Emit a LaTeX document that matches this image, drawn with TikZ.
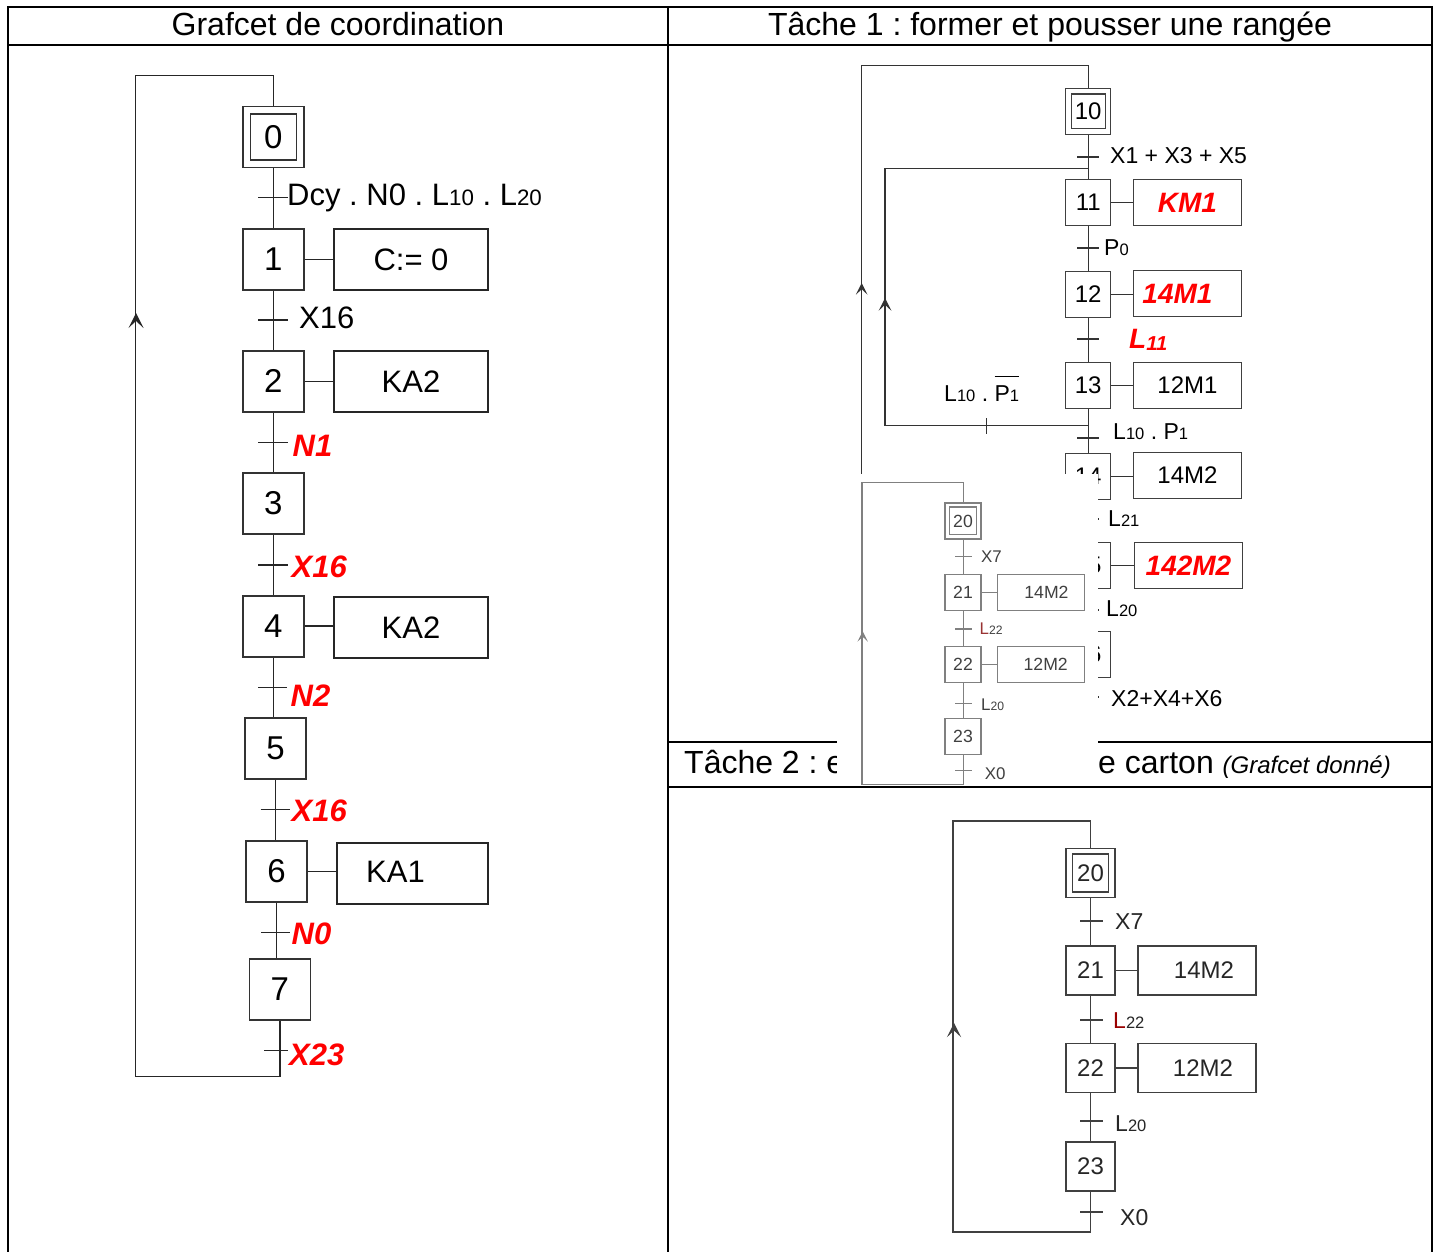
\documentclass[tikz,border=0pt]{standalone}
\usepackage{fontspec}
\setmainfont{Liberation Sans}
\frenchspacing
\newcommand\fs[1]{\fontsize{#1}{#1}\selectfont}
\newcommand\sbs[1]{\scalebox{0.72}{#1}}
\newcommand\obar[1]{\leavevmode\vbox{\hrule height 1.1pt \kern 9pt \hbox{#1}}}
\colorlet{tdl}{black!75}
\colorlet{tdt}{black!85}
\colorlet{tdr}{red!60!black}
\tikzset{
  frame/.style={line width=2.4pt,black},
  ln/.style={line width=1.5pt,black!85},
  ln1/.style={line width=1.3pt,black!80},
  chevron/.pic={\fill (0,0) -- (7.5,15) -- (0,8) -- (-7.5,15) -- cycle;},
  sbox/.style={draw=black!80,line width=1.6pt,inner sep=0pt,minimum width=61,minimum height=61,font=\fs{33}},
  sabox/.style={draw=black!85,line width=1.6pt,inner sep=0pt,minimum width=154,minimum height=61,font=\fs{31}},
  llab/.style={anchor=base west,inner sep=0pt,font=\fs{31}},
  rlab/.style={anchor=base west,inner sep=0pt,font=\fs{31}\bfseries\itshape,text=red},
  tbox/.style={draw=black!75,line width=1.3pt,inner sep=0pt,minimum width=45,minimum height=46,font=\fs{24}},
  tabox/.style={draw=black!75,line width=1.3pt,inner sep=0pt,minimum width=108.5,minimum height=46,font=\fs{24}},
  tlab/.style={anchor=base west,inner sep=0pt,font=\fs{23}},
  tred/.style={font=\fs{28}\bfseries\itshape,text=red},
  tdw/.style={line width=1.4pt},
  ubox/.style={draw=tdl,tdw,inner sep=0pt,minimum width=49,minimum height=49,font=\fs{24},text=tdt},
  uabox/.style={draw=tdl,tdw,inner sep=0pt,minimum width=118,minimum height=49,font=\fs{24},text=tdt},
  ulab/.style={anchor=base west,inner sep=0pt,font=\fs{23},text=tdt},
  uln/.style={draw=tdl,tdw},
  hdr/.style={anchor=base,inner sep=0pt,font=\fs{32}},
}
\newcommand\TacheDeux{%
  \node[ubox] (u20) at (1090.5,873) {20};
  \node[draw=tdl,tdw,inner sep=0pt,minimum width=36,minimum height=38] (u20i) at (u20.center) {};
  \node[ubox] (u21) at (1090.5,970.5) {21};
  \node[uabox] (c21) at (1197,970.5) {\hspace*{14pt}14M2};
  \node[ubox] (u22) at (1090.5,1068) {22};
  \node[uabox] (c22) at (1197,1068) {\hspace*{12pt}12M2};
  \node[ubox] (u23) at (1090.5,1166.5) {23};
  \coordinate (ut) at (1090.5,821);
  \coordinate (utl) at (953,821);
  \coordinate (ubl) at (953,1232);
  \coordinate (ub) at (1090.5,1232);
  \draw[uln] (u23.south) -- (ub) -- (ubl) -- (utl) -- (ut) -- (u20.north);
  \draw[uln] (u20.south) -- (u21.north);
  \draw[uln] (u21.south) -- (u22.north);
  \draw[uln] (u22.south) -- (u23.north);
  \draw[uln] (u21.east) -- (c21.west);
  \draw[uln] (u22.east) -- (c22.west);
  \draw[uln] (1080,921) -- (1103,921);
  \draw[uln] (1080,1020) -- (1103,1020);
  \draw[uln] (1080,1121) -- (1103,1121);
  \draw[uln] (1080,1212) -- (1103,1212);
  \node[ulab] (ux7) at (1115,929) {X7};
  \node[ulab] (ul22) at (1113,1028) {\textcolor{tdr}{L}\sbs{22}};
  \node[ulab] (ul20) at (1115,1131) {L\sbs{20}};
  \node[ulab] (ux0) at (1120,1225) {X0};
  \pic[color=tdl,scale=0.95] at (954,1023) {chevron};
}
\begin{document}
\begin{tikzpicture}[x=1pt,y=-1pt]
\useasboundingbox (0,0) rectangle (1438,1252);
\fill[white] (0,0) rectangle (1438,1252);
% ---------- table frame ----------
\draw[frame] (8,1252) -- (8,7) -- (1432,7) -- (1432,1252);
\draw[frame] (668,7) -- (668,1252);
\draw[frame] (8,45) -- (1432,45);
\draw[frame] (668,742) -- (1432,742);
\node[hdr] (h1) at (338,36) {Grafcet de coordination};
\node[hdr] (h2) at (1050,36) {Tâche 1 : former et pousser une rangée};
\node[anchor=base west,inner sep=0pt,font=\fs{32}] (h3) at (684,773) {Tâche 2 : e};
\node[anchor=base west,inner sep=0pt,font=\fs{32}] (h4) at (1098,773) {e carton {\fs{24}\itshape(Grafcet donné)}};
% ---------- Grafcet de coordination ----------
\node[sbox] (s0) at (273.3,137.2) {0};
\node[draw=black!80,line width=1.6pt,inner sep=0pt,minimum size=46] (s0i) at (s0.center) {};
\node[sbox] (s1) at (273.3,259.5) {1};
\node[sabox] (a1) at (411,259.5) {C:= 0};
\node[sbox] (s2) at (273.3,381.3) {2};
\node[sabox] (a2) at (411,381.3) {KA2};
\node[sbox] (s3) at (273.3,503.5) {3};
\node[sbox] (s4) at (273.3,626.2) {4};
\node[sabox] (a4) at (411,627.5) {KA2};
\node[sbox] (s5) at (275.5,748.5) {5};
\node[sbox] (s6) at (276.5,871.5) {6};
\node[sabox,minimum width=151] (a6) at (412.5,873.3) {};
\node[llab] (ka1) at (366,882) {KA1};
\node[sbox] (s7) at (279.8,989.5) {7};
\coordinate (lt) at (273.3,75.7);
\coordinate (ltl) at (135.7,75.7);
\coordinate (lbl) at (135.7,1076.7);
\coordinate (lb) at (279.8,1076.7);
\draw[ln] (s7.south) -- (lb) -- (lbl) -- (ltl) -- (lt) -- (s0.north);
\foreach \a/\b in {s0/s1,s1/s2,s2/s3,s3/s4,s4/s5,s5/s6,s6/s7}
  \draw[ln] (\a.south) -- (\a.south |- \b.north);
\foreach \s/\a in {s1/a1,s2/a2,s4/a4,s6/a6}
  \draw[ln] (\s.east) -- (\s.east -| \a.west);
\draw[ln] (258,197.5) -- (288,197.5);
\draw[ln] (258,320) -- (288,320);
\draw[ln] (258,442.7) -- (288,442.7);
\draw[ln] (258,565) -- (288,565);
\draw[ln] (258,687.5) -- (287,687.5);
\draw[ln] (260.7,809.7) -- (290,809.7);
\draw[ln] (261,932.7) -- (290,932.7);
\draw[ln] (264,1050.3) -- (288,1050.3);
\node[llab] (c0) at (287,206) {Dcy . N0 . L\sbs{10} . L\sbs{20}};
\node[llab] (c1) at (299,328) {X16};
\node[rlab] (c2) at (292.5,456) {N1};
\node[rlab] (c3) at (291.5,577) {X16};
\node[rlab] (c4) at (290.5,706) {N2};
\node[rlab] (c5) at (291.5,821) {X16};
\node[rlab] (c6) at (291.5,944) {N0};
\node[rlab] (c7) at (289,1065) {X23};
\pic[color=black!85] at (136,313) {chevron};
% ---------- Tache 1 ----------
\node[tbox] (t10) at (1088.2,111.2) {10};
\node[draw=black!75,line width=1.3pt,inner sep=0pt,minimum width=34,minimum height=34.5] (t10i) at (t10.center) {};
\node[tbox] (t11) at (1088.2,202.2) {11};
\node[tabox,tred] (b11) at (1187.5,202.5) {KM1};
\node[tbox] (t12) at (1088.2,294.2) {12};
\node[tabox,tred] (b12) at (1187.5,293.8) {14M1\hspace*{20pt}};
\node[tbox] (t13) at (1088.2,385.5) {13};
\node[tabox] (b13) at (1187.5,385.5) {12M1};
\node[tbox] (t14) at (1088.2,476.3) {14};
\node[tabox] (b14) at (1187.5,475.5) {14M2};
\node[tbox] (t15) at (1088.2,565.2) {15};
\node[tabox,tred] (b15) at (1188.5,565.8) {142M2};
\node[tbox] (t16) at (1088.2,654.5) {16};
\coordinate (r1t) at (1088.2,65.7);
\coordinate (r1tl) at (861.7,65.7);
\coordinate (r1bl) at (861.7,722);
\coordinate (r1b) at (1088.2,722);
\draw[ln1] (t16.south) -- (r1b) -- (r1bl) -- (r1tl) -- (r1t) -- (t10.north);
\foreach \a/\b in {t10/t11,t11/t12,t12/t13,t13/t14,t14/t15,t15/t16}
  \draw[ln1] (\a.south) -- (\b.north);
\foreach \s/\a in {t11/b11,t12/b12,t13/b13,t14/b14,t15/b15}
  \draw[ln1] (\s.east) -- (\s.east -| \a.west);
\coordinate (br) at (1088.2,425.7);
\coordinate (brl) at (885,425.7);
\coordinate (brtl) at (885,168.3);
\coordinate (brt) at (1088.2,168.3);
\draw[ln1] (br) -- (brl) -- (brtl) -- (brt);
\draw[ln1] (986.5,418) -- (986.5,434);
\foreach \y in {157,248,339,438,519,610,697}
  \draw[ln1] (1077,\y) -- (1099,\y);
\node[tlab] (d1) at (1110,163.3) {X1 + X3 + X5};
\node[tlab] (d2) at (1104,255) {P\sbs{0}};
\node[tlab,tred] (d3) at (1129,348.3) {L\raisebox{-2pt}{\sbs{11}}};
\node[tlab] (d4) at (1113,439.3) {L\sbs{10} . P\sbs{1}};
\node[tlab] (d5) at (944,401.7) {L\sbs{10} . \obar{P\sbs{1}}};
\node[tlab] (d6) at (1108,526.7) {L\sbs{21}};
\node[tlab] (d7) at (1106,616.7) {L\sbs{20}};
\node[tlab] (d8) at (1111,706) {X2+X4+X6};
\pic[color=black!80,scale=0.78] at (861.7,283) {chevron};
\pic[color=black!80,scale=0.85] at (885,298) {chevron};
% ---------- Tache 2 ----------
\TacheDeux
% ---------- overlay ----------
\fill[white] (837,473.5) rectangle (1097.5,786);
\begin{scope}[shift={(161.5,-120.7)},scale=0.735,transform shape,name prefix=m-,tdw/.style={line width=1.1pt}]
\colorlet{tdl}{black!50}\colorlet{tdt}{black!75}\colorlet{tdr}{red!50!black!80}
\TacheDeux
\end{scope}
\draw[frame] (668,787) -- (1432,787);
\end{tikzpicture}
\end{document}
